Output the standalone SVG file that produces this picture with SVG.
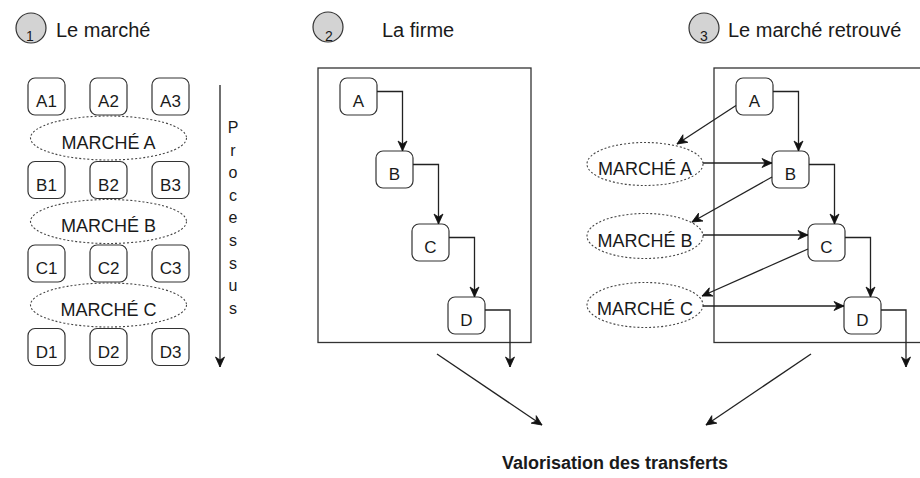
<svg xmlns="http://www.w3.org/2000/svg" width="920" height="478" viewBox="0 0 920 478">
<defs>
<style>
text{font-family:"Liberation Sans",Arial,Helvetica,sans-serif;fill:#1a1a1a}
.h{font-size:20px}
.num{font-size:14px;text-anchor:middle}
.bx{fill:#fff;stroke:#333;stroke-width:1.2}
.bt{font-size:17px;text-anchor:middle}
.el{fill:#fff;stroke:#444;stroke-width:1.1;stroke-dasharray:2 2}
.et{font-size:18px;text-anchor:middle}
.frame{fill:none;stroke:#333;stroke-width:1.3}
.c{fill:none;stroke:#222;stroke-width:1.3;marker-end:url(#arr)}
.circ{fill:#d3d3d3;stroke:#333;stroke-width:1.2}
.pl{font-size:16px;text-anchor:middle}
</style>
<marker id="arr" markerUnits="userSpaceOnUse" markerWidth="12" markerHeight="10" refX="10" refY="4.5" orient="auto" overflow="visible">
<path d="M0,0 L10,4.5 L0,9 L3,4.5 Z" fill="#111" stroke="#111" stroke-width="0.8"/>
</marker>
</defs>

<g id="heading1">
<circle class="circ" cx="31" cy="28" r="15"/>
<text class="num" x="30" y="41">1</text>
<text class="h" x="56" y="37">Le marché</text>
</g>
<g id="heading2">
<circle class="circ" cx="328" cy="27" r="15"/>
<text class="num" x="329" y="40.5">2</text>
<text class="h" x="382" y="37">La firme</text>
</g>
<g id="heading3">
<circle class="circ" cx="704" cy="28" r="15"/>
<text class="num" x="704" y="41">3</text>
<text class="h" x="728" y="37">Le marché retrouvé</text>
</g>

<!-- Section 1 -->
<g id="A1"><rect class="bx" x="28" y="78" width="37" height="37" rx="7"/><text class="bt" x="46.5" y="107">A1</text></g>
<g id="A2"><rect class="bx" x="90" y="78" width="37" height="37" rx="7"/><text class="bt" x="108.5" y="107">A2</text></g>
<g id="A3"><rect class="bx" x="152" y="78" width="37" height="37" rx="7"/><text class="bt" x="170.5" y="107">A3</text></g>
<g id="marcheA1"><ellipse class="el" cx="108.5" cy="138" rx="78" ry="22"/><text class="et" x="108.5" y="148.5">MARCHÉ A</text></g>
<g id="B1"><rect class="bx" x="28" y="161.5" width="37" height="37" rx="7"/><text class="bt" x="46.5" y="190.5">B1</text></g>
<g id="B2"><rect class="bx" x="90" y="161.5" width="37" height="37" rx="7"/><text class="bt" x="108.5" y="190.5">B2</text></g>
<g id="B3"><rect class="bx" x="152" y="161.5" width="37" height="37" rx="7"/><text class="bt" x="170.5" y="190.5">B3</text></g>
<g id="marcheB1"><ellipse class="el" cx="108.5" cy="221.5" rx="78" ry="22"/><text class="et" x="108.5" y="232">MARCHÉ B</text></g>
<g id="C1"><rect class="bx" x="28" y="245" width="37" height="37" rx="7"/><text class="bt" x="46.5" y="274">C1</text></g>
<g id="C2"><rect class="bx" x="90" y="245" width="37" height="37" rx="7"/><text class="bt" x="108.5" y="274">C2</text></g>
<g id="C3"><rect class="bx" x="152" y="245" width="37" height="37" rx="7"/><text class="bt" x="170.5" y="274">C3</text></g>
<g id="marcheC1"><ellipse class="el" cx="108.5" cy="305" rx="78" ry="22"/><text class="et" x="108.5" y="315.5">MARCHÉ C</text></g>
<g id="D1"><rect class="bx" x="28" y="328.5" width="37" height="37" rx="7"/><text class="bt" x="46.5" y="357.5">D1</text></g>
<g id="D2"><rect class="bx" x="90" y="328.5" width="37" height="37" rx="7"/><text class="bt" x="108.5" y="357.5">D2</text></g>
<g id="D3"><rect class="bx" x="152" y="328.5" width="37" height="37" rx="7"/><text class="bt" x="170.5" y="357.5">D3</text></g>
<g id="processus">
<text class="pl" x="233" y="133">P</text>
<text class="pl" x="233" y="155.6">r</text>
<text class="pl" x="233" y="178.2">o</text>
<text class="pl" x="233" y="200.8">c</text>
<text class="pl" x="233" y="223.4">e</text>
<text class="pl" x="233" y="246">s</text>
<text class="pl" x="233" y="268.6">s</text>
<text class="pl" x="233" y="291.2">u</text>
<text class="pl" x="233" y="313.8">s</text>
</g>

<!-- Section 2 -->
<g id="firme2"><rect class="frame" x="318" y="68" width="213" height="274.5"/></g>
<g id="A_2"><rect class="bx" x="340" y="78" width="37" height="37" rx="7"/><text class="bt" x="358.5" y="107">A</text></g>
<g id="B_2"><rect class="bx" x="376" y="151" width="37" height="37" rx="7"/><text class="bt" x="394.5" y="180">B</text></g>
<g id="C_2"><rect class="bx" x="412" y="224" width="37" height="37" rx="7"/><text class="bt" x="430.5" y="253">C</text></g>
<g id="D_2"><rect class="bx" x="448" y="297" width="37" height="37" rx="7"/><text class="bt" x="466.5" y="326">D</text></g>

<!-- Section 3 -->
<g id="firme3"><rect class="frame" x="714" y="68" width="240" height="274.5"/></g>
<g id="A_3"><rect class="bx" x="736" y="78" width="37" height="37" rx="7"/><text class="bt" x="754.5" y="107">A</text></g>
<g id="B_3"><rect class="bx" x="772" y="151" width="37" height="37" rx="7"/><text class="bt" x="790.5" y="180">B</text></g>
<g id="C_3"><rect class="bx" x="808" y="224" width="37" height="37" rx="7"/><text class="bt" x="826.5" y="253">C</text></g>
<g id="D_3"><rect class="bx" x="844" y="297" width="37" height="37" rx="7"/><text class="bt" x="862.5" y="326">D</text></g>
<g id="marcheA3"><ellipse class="el" cx="645" cy="164" rx="58" ry="21.5"/><text class="et" x="645" y="175">MARCHÉ A</text></g>
<g id="marcheB3"><ellipse class="el" cx="645" cy="236" rx="58" ry="22.5"/><text class="et" x="645" y="246.5">MARCHÉ B</text></g>
<g id="marcheC3"><ellipse class="el" cx="645" cy="305" rx="58" ry="22.5"/><text class="et" x="645" y="315">MARCHÉ C</text></g>

<g id="valorisation"><text x="615" y="469" style="font-size:18px;font-weight:bold;text-anchor:middle">Valorisation des transferts</text></g>

<g id="connectors">
<line class="c" x1="220" y1="85" x2="220" y2="367"/>
<polyline class="c" points="377,91.5 402.5,91.5 402.5,151"/>
<polyline class="c" points="413,164.5 438.5,164.5 438.5,224"/>
<polyline class="c" points="449,237.5 474.5,237.5 474.5,297"/>
<polyline class="c" points="485,310 510,310 510,367"/>
<polyline class="c" points="773,91.5 798.5,91.5 798.5,151"/>
<polyline class="c" points="809,164.5 834.5,164.5 834.5,224"/>
<polyline class="c" points="845,237.5 870.5,237.5 870.5,297"/>
<polyline class="c" points="881,310 906,310 906,367"/>
<line class="c" x1="736" y1="105.5" x2="677" y2="144"/>
<line class="c" x1="772" y1="177" x2="692" y2="222"/>
<line class="c" x1="808" y1="249" x2="702" y2="296"/>
<line class="c" x1="703" y1="163" x2="772" y2="163"/>
<line class="c" x1="703" y1="235" x2="808" y2="235"/>
<line class="c" x1="703" y1="306" x2="844" y2="306"/>
<line class="c" x1="437" y1="354" x2="542" y2="425"/>
<line class="c" x1="811" y1="354" x2="706" y2="425"/>
</g>
</svg>
